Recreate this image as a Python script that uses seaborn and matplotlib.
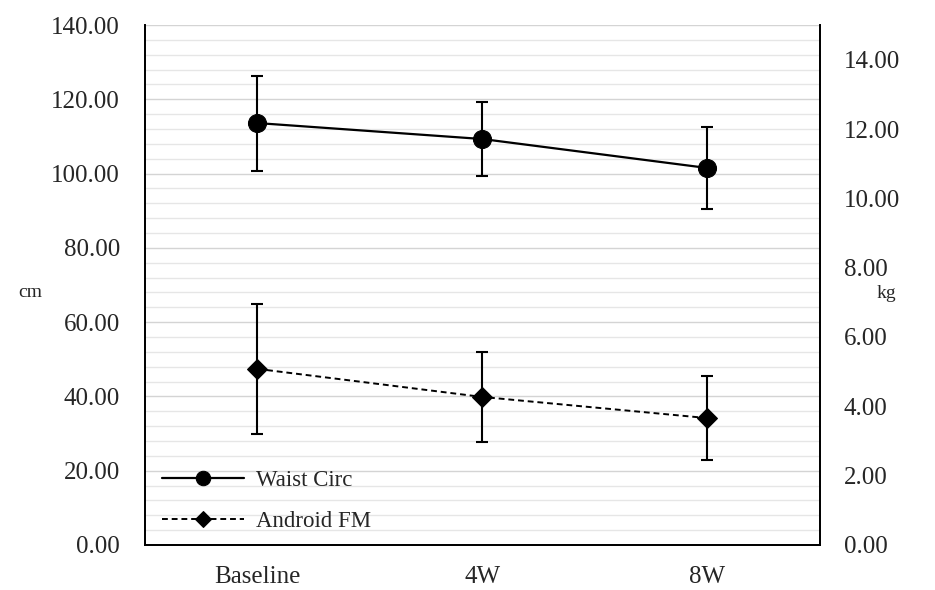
import numpy as np
import pandas as pd
import seaborn as sns
import matplotlib.pyplot as plt
from matplotlib.ticker import MultipleLocator, FormatStrFormatter

# Data
timepoints = ['Baseline', '4W', '8W']
waist_mean = [113.6, 109.3, 101.5]
waist_sd = [12.8, 10.0, 11.0]
android_mean = [5.08, 4.27, 3.66]
android_sd = [1.88, 1.30, 1.22]

sns.set_style('white')
plt.rcParams['font.family'] = ['Liberation Serif', 'DejaVu Serif']

df = pd.DataFrame({'pos': np.arange(len(timepoints)),
                   'waist': waist_mean, 'android': android_mean})

fig = plt.figure(figsize=(9.35, 5.9), dpi=100)
ax = fig.add_axes([0.155, 0.0763, 0.722, 0.8813])
ax2 = ax.twinx()

# Gridlines (left axis)
ax.yaxis.set_minor_locator(MultipleLocator(4))
ax.grid(which='minor', axis='y', color='#e6e6e6', linewidth=1.0)
ax.grid(which='major', axis='y', color='#d4d4d4', linewidth=1.0)
ax.set_axisbelow(True)

# Waist circumference (cm, left axis)
ax.errorbar(df['pos'], df['waist'], yerr=waist_sd, fmt='none',
            ecolor='black', elinewidth=1.5, capsize=4.5, capthick=1.5, zorder=3)
sns.lineplot(data=df, x='pos', y='waist', ax=ax, color='black', linewidth=1.6,
             marker='o', markersize=13, markeredgecolor='black',
             label='Waist Circ', legend=False, zorder=4)

# Android fat mass (kg, right axis)
ax2.errorbar(df['pos'], df['android'], yerr=android_sd, fmt='none',
             ecolor='black', elinewidth=1.5, capsize=4.5, capthick=1.5, zorder=3)
sns.lineplot(data=df, x='pos', y='android', ax=ax2, color='black', linewidth=1.4,
             linestyle=(0, (3, 2)), marker='D', markersize=10,
             markeredgecolor='black', label='Android FM', legend=False, zorder=4)

# Axes limits and ticks
ax.set_xlim(-0.5, len(timepoints) - 0.5)
ax.set_ylim(0, 140)
ax2.set_ylim(0, 15)
ax.yaxis.set_major_locator(MultipleLocator(20))
ax2.set_yticks(np.arange(0, 15, 2))
ax.yaxis.set_major_formatter(FormatStrFormatter('%.2f'))
ax2.yaxis.set_major_formatter(FormatStrFormatter('%.2f'))

ax.set_xticks(np.arange(len(timepoints)))
ax.set_xticklabels(timepoints)
ax.set_xticks(np.arange(len(timepoints) + 1) - 0.5, minor=True)
ax.tick_params(axis='x', which='major', length=0, labelsize=18, pad=15)
ax.tick_params(axis='x', which='minor', length=5, width=1.2, direction='out',
               color='black')
ax.tick_params(axis='y', which='both', length=0, labelsize=18, pad=18)
ax2.tick_params(axis='y', length=0, labelsize=18, pad=17)

ax.set_xlabel('')
ax.set_ylabel('cm', rotation=0, fontsize=14)
ax2.set_ylabel('kg', rotation=0, fontsize=14)
ax.yaxis.set_label_coords(-0.17, 0.47)
ax2.yaxis.set_label_coords(1.098, 0.50)

for a in (ax, ax2):
    a.spines['top'].set_visible(False)
    for s in ('left', 'right', 'bottom'):
        a.spines[s].set_color('black')
        a.spines[s].set_linewidth(1.3)

# Combined legend
h1, l1 = ax.get_legend_handles_labels()
h2, l2 = ax2.get_legend_handles_labels()
ax2.legend(h1 + h2, l1 + l2, loc='lower left', bbox_to_anchor=(0.025, 0.025),
           borderaxespad=0, borderpad=0, frameon=False, fontsize=16.5,
           handlelength=3.6, labelspacing=0.85, handletextpad=0.5,
           markerscale=0.8)

fig.savefig('out.png', dpi=100)
